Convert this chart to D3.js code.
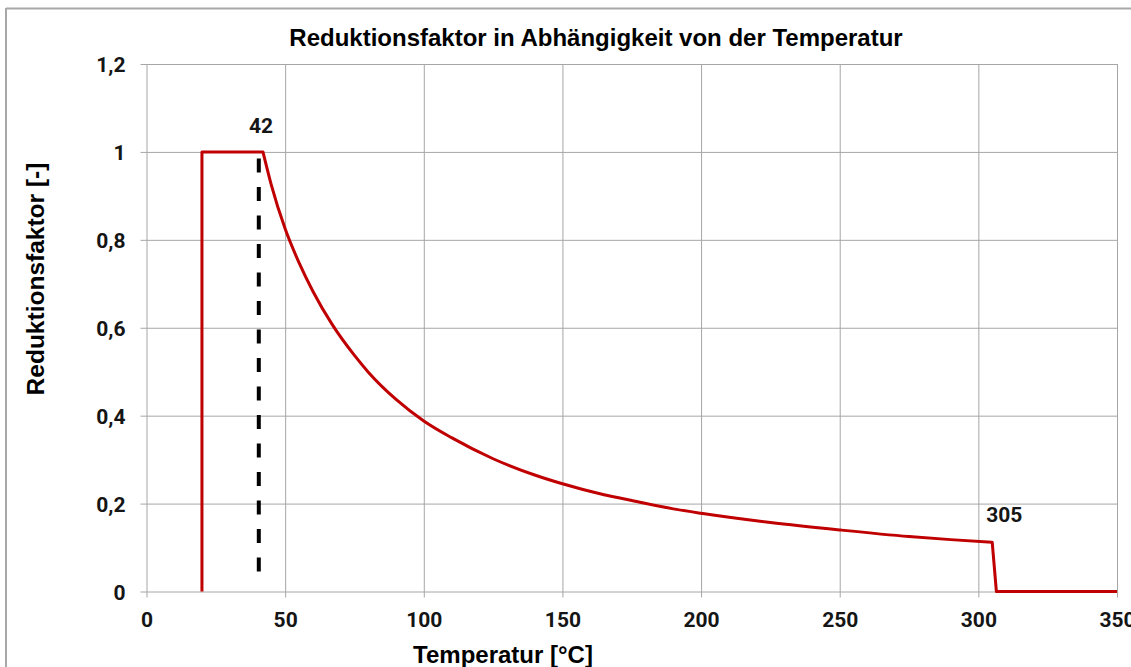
<!DOCTYPE html>
<html>
<head>
<meta charset="utf-8">
<script src="https://cdn.jsdelivr.net/npm/d3@7"></script>
<style>
  html, body { margin: 0; padding: 0; background: #fff; }
  svg { display: block; }
</style>
</head>
<body>
<svg id="chart" width="1131" height="667"></svg>
<script>
// Reduction factor vs. temperature
const temperatures = [20, 20, 42, 45, 50, 55, 60, 67, 75, 80, 90, 100, 110, 125, 140, 150, 165, 175, 190, 200, 225, 250, 275, 290, 305, 306.5, 350];
const factors      = [0, 1, 1, 0.925, 0.825, 0.748, 0.683, 0.607, 0.537, 0.499, 0.437, 0.388, 0.35, 0.302, 0.265, 0.245, 0.22, 0.207, 0.188, 0.178, 0.157, 0.14, 0.125, 0.118, 0.112, 0, 0];

const xTicks = [0, 50, 100, 150, 200, 250, 300, 350];
const yTicks = [0, 0.2, 0.4, 0.6, 0.8, 1.0, 1.2];
const yTickLabels = ["0", "0,2", "0,4", "0,6", "0,8", "1", "1,2"];

const markerTemps = [42, 305];
const markerLabels = ["42", "305"];
const dashedTemp = 40.5;

const title = "Reduktionsfaktor in Abhängigkeit von der Temperatur";
const xTitle = "Temperatur [°C]";
const yTitle = "Reduktionsfaktor [-]";

const svg = d3.select("#chart");

// outer frame (top and left edges visible)
svg.append("line").attr("x1", 6).attr("x2", 1131).attr("y1", 8.5).attr("y2", 8.5)
  .attr("stroke", "#a8a8a8").attr("stroke-width", 2);
svg.append("line").attr("x1", 6).attr("x2", 6).attr("y1", 8).attr("y2", 667)
  .attr("stroke", "#a8a8a8").attr("stroke-width", 2);

const x = d3.scaleLinear().domain([0, 350]).range([146.5, 1117]);
const y = d3.scaleLinear().domain([0, 1.2]).range([591.5, 64]);

const plotW = x.range()[1] - x.range()[0];
const plotH = y.range()[0] - y.range()[1];

// horizontal gridlines with small outward ticks
const yAxis = d3.axisLeft(y).tickValues(yTicks)
  .tickFormat((d, i) => yTickLabels[i])
  .tickSizeInner(-plotW).tickSizeOuter(0).tickPadding(21);
const gy = svg.append("g").attr("transform", `translate(${x.range()[0]},0)`).call(yAxis);
gy.select(".domain").remove();
gy.selectAll(".tick line").attr("x1", -6).attr("stroke", "#a6a6a6").attr("stroke-width", 1);
gy.selectAll(".tick text")
  .attr("font-family", "Roboto, 'Open Sans', sans-serif")
  .attr("font-weight", "bold").attr("font-size", 21).attr("fill", "#151515")
  .attr("dy", "0.36em");

// vertical gridlines with small outward ticks
const xAxis = d3.axisBottom(x).tickValues(xTicks)
  .tickFormat(d3.format("d"))
  .tickSizeInner(-plotH).tickSizeOuter(0).tickPadding(0);
const gx = svg.append("g").attr("transform", `translate(0,${y.range()[0]})`).call(xAxis);
gx.select(".domain").remove();
gx.selectAll(".tick line").attr("y1", 6).attr("stroke", "#a6a6a6").attr("stroke-width", 1);
gx.selectAll(".tick text")
  .attr("font-family", "Roboto, 'Open Sans', sans-serif")
  .attr("font-weight", "bold").attr("font-size", 21).attr("fill", "#151515")
  .attr("y", 35.5).attr("dy", 0);

// dashed reference line
svg.append("line")
  .attr("x1", x(dashedTemp)).attr("x2", x(dashedTemp))
  .attr("y1", y(0.985)).attr("y2", y(0.015))
  .attr("stroke", "#000").attr("stroke-width", 4)
  .attr("stroke-dasharray", "14,14.5");

// curve: step up, smooth decay, drop to zero
const pts = temperatures.map((t, i) => [t, factors[i]]);
const iStart = 2, iEnd = 24;
const linear = d3.line().x(d => x(d[0])).y(d => y(d[1]));
const smooth = d3.line().x(d => x(d[0])).y(d => y(d[1])).curve(d3.curveMonotoneX);
const pathD = linear(pts.slice(0, iStart + 1)) +
  smooth(pts.slice(iStart, iEnd + 1)).replace(/^M[^CL]*/, "") +
  linear(pts.slice(iEnd)).replace(/^M[^L]*/, "");
svg.append("path").attr("d", pathD)
  .attr("fill", "none").attr("stroke", "#c00000").attr("stroke-width", 3)
  .attr("stroke-linejoin", "round");

// value labels
const labelOffsets = [[-2, -19], [12, -20]];
svg.selectAll(".marker-label").data(markerTemps).join("text")
  .attr("class", "marker-label")
  .attr("x", (d, i) => x(d) + labelOffsets[i][0])
  .attr("y", (d, i) => y(factors[temperatures.indexOf(d)]) + labelOffsets[i][1])
  .attr("text-anchor", "middle")
  .attr("font-family", "Roboto, 'Open Sans', sans-serif")
  .attr("font-weight", "bold").attr("font-size", 21).attr("fill", "#151515")
  .text((d, i) => markerLabels[i]);

// titles
svg.append("text").attr("x", 596).attr("y", 46).attr("text-anchor", "middle")
  .attr("font-family", "'Liberation Sans', Arial, sans-serif")
  .attr("font-weight", "bold").attr("font-size", 24).attr("fill", "#000")
  .text(title);
svg.append("text").attr("x", 503).attr("y", 663).attr("text-anchor", "middle")
  .attr("font-family", "'Liberation Sans', Arial, sans-serif")
  .attr("font-weight", "bold").attr("font-size", 24).attr("fill", "#000")
  .text(xTitle);
svg.append("text").attr("transform", "translate(44,279) rotate(-90)")
  .attr("text-anchor", "middle")
  .attr("font-family", "'Liberation Sans', Arial, sans-serif")
  .attr("font-weight", "bold").attr("font-size", 24.5).attr("fill", "#000")
  .text(yTitle);
</script>
</body>
</html>
